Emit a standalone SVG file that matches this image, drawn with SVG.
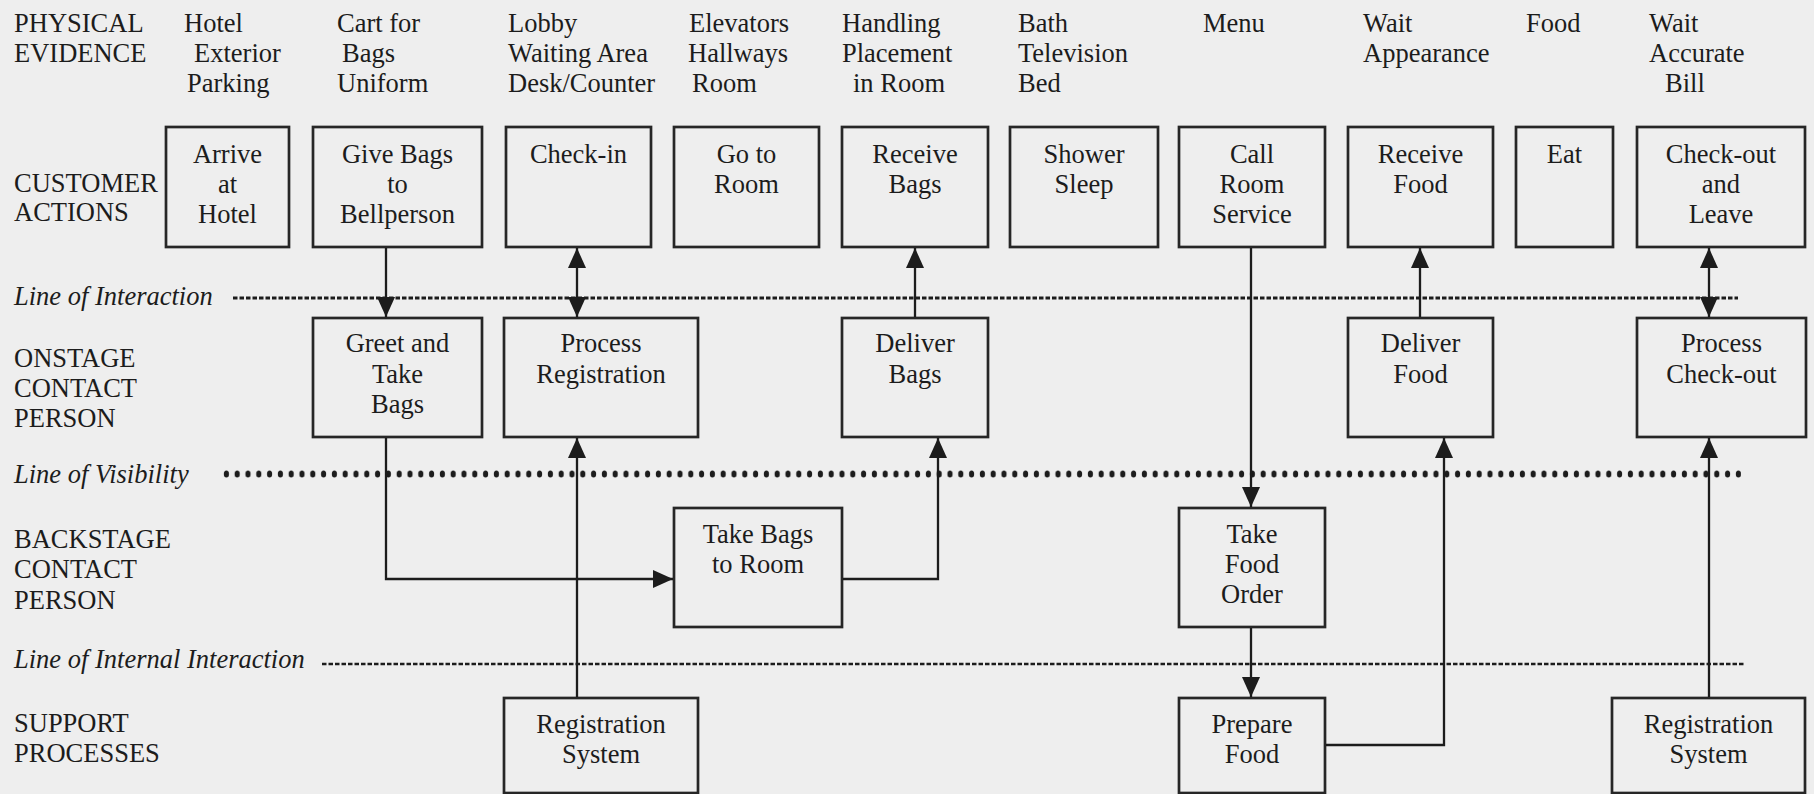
<svg xmlns="http://www.w3.org/2000/svg" width="1814" height="794" viewBox="0 0 1814 794">
  <style>
    text { font-family: "Liberation Serif", "Times New Roman", serif; font-size: 26.5px; fill: #1c1c1c; }
    .it { font-style: italic; }
    .c { text-anchor: middle; }
    .box { fill: none; stroke: #262626; stroke-width: 2.7; }
    .conn { fill: none; stroke: #1c1c1c; stroke-width: 2.3; }
    .dash { stroke: #1c1c1c; stroke-width: 3; stroke-dasharray: 4.5 2; }
  </style>
  <defs>
    <marker id="arrow" markerUnits="userSpaceOnUse" markerWidth="21" markerHeight="18" refX="20" refY="9" orient="auto-start-reverse">
      <path d="M0,0 L20,9 L0,18 z" fill="#1c1c1c"/>
    </marker>
    <pattern id="dots" patternUnits="userSpaceOnUse" x="221" y="469" width="10.8" height="10">
      <ellipse cx="5.4" cy="5" rx="2.6" ry="3.6" fill="#1c1c1c"/>
    </pattern>
  </defs>

  <rect width="1814" height="794" fill="#eeeeee"/>

  <!-- lane titles -->
  <g id="lane-labels">
    <text x="14" y="32">PHYSICAL</text>
    <text x="14" y="62">EVIDENCE</text>
    <text x="14" y="192">CUSTOMER</text>
    <text x="14" y="221">ACTIONS</text>
    <text x="14" y="367">ONSTAGE</text>
    <text x="14" y="397">CONTACT</text>
    <text x="14" y="427">PERSON</text>
    <text x="14" y="548">BACKSTAGE</text>
    <text x="14" y="578">CONTACT</text>
    <text x="14" y="609">PERSON</text>
    <text x="14" y="732">SUPPORT</text>
    <text x="14" y="762">PROCESSES</text>
  </g>

  <!-- separating lines -->
  <g id="lines">
    <text class="it" x="14" y="305">Line of Interaction</text>
    <line class="dash" x1="233" y1="298" x2="1738" y2="298"/>
    <text class="it" x="14" y="483">Line of Visibility</text>
    <rect x="221" y="469" width="1520" height="10" fill="url(#dots)"/>
    <text class="it" x="14" y="668">Line of Internal Interaction</text>
    <line class="dash" x1="322" y1="664" x2="1744" y2="664" style="stroke-width:2.5"/>
  </g>

  <!-- physical evidence -->
  <g id="evidence">
    <text x="184" y="32">Hotel</text>
    <text x="194" y="62">Exterior</text>
    <text x="187" y="92">Parking</text>
    <text x="337" y="32">Cart for</text>
    <text x="342" y="62">Bags</text>
    <text x="337" y="92">Uniform</text>
    <text x="508" y="32">Lobby</text>
    <text x="508" y="62">Waiting Area</text>
    <text x="508" y="92">Desk/Counter</text>
    <text x="689" y="32">Elevators</text>
    <text x="688" y="62">Hallways</text>
    <text x="692" y="92">Room</text>
    <text x="842" y="32">Handling</text>
    <text x="842" y="62">Placement</text>
    <text x="853" y="92">in Room</text>
    <text x="1018" y="32">Bath</text>
    <text x="1018" y="62">Television</text>
    <text x="1018" y="92">Bed</text>
    <text x="1203" y="32">Menu</text>
    <text x="1363" y="32">Wait</text>
    <text x="1363" y="62">Appearance</text>
    <text x="1526" y="32">Food</text>
    <text x="1649" y="32">Wait</text>
    <text x="1649" y="62">Accurate</text>
    <text x="1665" y="92">Bill</text>
  </g>

  <!-- customer actions -->
  <g id="arrive">
    <rect class="box" x="166" y="127" width="123" height="120"/>
    <text class="c" x="227.5" y="163">Arrive</text>
    <text class="c" x="227.5" y="193">at</text>
    <text class="c" x="227.5" y="223">Hotel</text>
  </g>
  <g id="give-bags">
    <rect class="box" x="313" y="127" width="169" height="120"/>
    <text class="c" x="397.5" y="163">Give Bags</text>
    <text class="c" x="397.5" y="193">to</text>
    <text class="c" x="397.5" y="223">Bellperson</text>
  </g>
  <g id="check-in">
    <rect class="box" x="506" y="127" width="145" height="120"/>
    <text class="c" x="578.5" y="163">Check-in</text>
  </g>
  <g id="go-to-room">
    <rect class="box" x="674" y="127" width="145" height="120"/>
    <text class="c" x="746.5" y="163">Go to</text>
    <text class="c" x="746.5" y="193">Room</text>
  </g>
  <g id="receive-bags">
    <rect class="box" x="842" y="127" width="146" height="120"/>
    <text class="c" x="915" y="163">Receive</text>
    <text class="c" x="915" y="193">Bags</text>
  </g>
  <g id="shower-sleep">
    <rect class="box" x="1010" y="127" width="148" height="120"/>
    <text class="c" x="1084" y="163">Shower</text>
    <text class="c" x="1084" y="193">Sleep</text>
  </g>
  <g id="call-room-service">
    <rect class="box" x="1179" y="127" width="146" height="120"/>
    <text class="c" x="1252" y="163">Call</text>
    <text class="c" x="1252" y="193">Room</text>
    <text class="c" x="1252" y="223">Service</text>
  </g>
  <g id="receive-food">
    <rect class="box" x="1348" y="127" width="145" height="120"/>
    <text class="c" x="1420.5" y="163">Receive</text>
    <text class="c" x="1420.5" y="193">Food</text>
  </g>
  <g id="eat">
    <rect class="box" x="1516" y="127" width="97" height="120"/>
    <text class="c" x="1564.5" y="163">Eat</text>
  </g>
  <g id="check-out">
    <rect class="box" x="1637" y="127" width="168" height="120"/>
    <text class="c" x="1721" y="163">Check-out</text>
    <text class="c" x="1721" y="193">and</text>
    <text class="c" x="1721" y="223">Leave</text>
  </g>

  <!-- onstage contact person -->
  <g id="greet">
    <rect class="box" x="313" y="318" width="169" height="119"/>
    <text class="c" x="397.5" y="352">Greet and</text>
    <text class="c" x="397.5" y="383">Take</text>
    <text class="c" x="397.5" y="413">Bags</text>
  </g>
  <g id="process-registration">
    <rect class="box" x="504" y="318" width="194" height="119"/>
    <text class="c" x="601" y="352">Process</text>
    <text class="c" x="601" y="383">Registration</text>
  </g>
  <g id="deliver-bags">
    <rect class="box" x="842" y="318" width="146" height="119"/>
    <text class="c" x="915" y="352">Deliver</text>
    <text class="c" x="915" y="383">Bags</text>
  </g>
  <g id="deliver-food">
    <rect class="box" x="1348" y="318" width="145" height="119"/>
    <text class="c" x="1420.5" y="352">Deliver</text>
    <text class="c" x="1420.5" y="383">Food</text>
  </g>
  <g id="process-check-out">
    <rect class="box" x="1637" y="318" width="169" height="119"/>
    <text class="c" x="1721.5" y="352">Process</text>
    <text class="c" x="1721.5" y="383">Check-out</text>
  </g>

  <!-- backstage contact person -->
  <g id="take-bags">
    <rect class="box" x="674" y="508" width="168" height="119"/>
    <text class="c" x="758" y="543">Take Bags</text>
    <text class="c" x="758" y="573">to Room</text>
  </g>
  <g id="take-food-order">
    <rect class="box" x="1179" y="508" width="146" height="119"/>
    <text class="c" x="1252" y="543">Take</text>
    <text class="c" x="1252" y="573">Food</text>
    <text class="c" x="1252" y="603">Order</text>
  </g>

  <!-- support processes -->
  <g id="registration-system-1">
    <rect class="box" x="504" y="698" width="194" height="95"/>
    <text class="c" x="601" y="733">Registration</text>
    <text class="c" x="601" y="763">System</text>
  </g>
  <g id="prepare-food">
    <rect class="box" x="1179" y="698" width="146" height="95"/>
    <text class="c" x="1252" y="733">Prepare</text>
    <text class="c" x="1252" y="763">Food</text>
  </g>
  <g id="registration-system-2">
    <rect class="box" x="1612" y="698" width="193" height="95"/>
    <text class="c" x="1708.5" y="733">Registration</text>
    <text class="c" x="1708.5" y="763">System</text>
  </g>

  <!-- connectors -->
  <g id="connectors">
    <path class="conn" d="M386,248 V317" marker-end="url(#arrow)"/>
    <path class="conn" d="M577,317 V248" marker-start="url(#arrow)" marker-end="url(#arrow)"/>
    <path class="conn" d="M915,317 V248" marker-end="url(#arrow)"/>
    <path class="conn" d="M1251,248 V507" marker-end="url(#arrow)"/>
    <path class="conn" d="M1420,317 V248" marker-end="url(#arrow)"/>
    <path class="conn" d="M1709,317 V248" marker-start="url(#arrow)" marker-end="url(#arrow)"/>
    <path class="conn" d="M386,438 V579 H673" marker-end="url(#arrow)"/>
    <path class="conn" d="M843,579 H938 V438" marker-end="url(#arrow)"/>
    <path class="conn" d="M577,697 V438" marker-end="url(#arrow)"/>
    <path class="conn" d="M1251,628 V697" marker-end="url(#arrow)"/>
    <path class="conn" d="M1326,745 H1444 V438" marker-end="url(#arrow)"/>
    <path class="conn" d="M1709,697 V438" marker-end="url(#arrow)"/>
  </g>
</svg>
